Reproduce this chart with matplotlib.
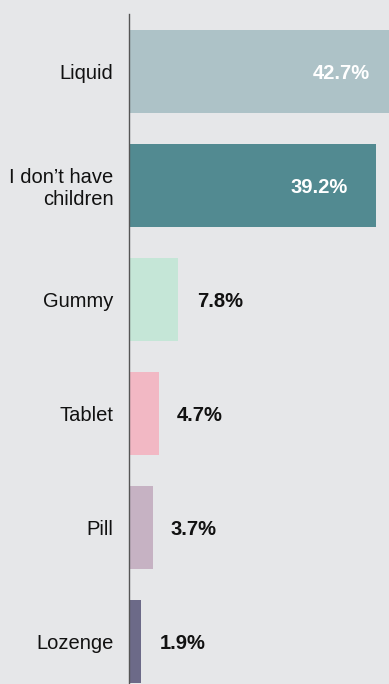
import matplotlib
matplotlib.use("Agg")
import matplotlib.pyplot as plt
from matplotlib import font_manager

categories = ["Liquid", "I don\u2019t have\nchildren", "Gummy", "Tablet", "Pill", "Lozenge"]
values = [42.7, 39.2, 7.8, 4.7, 3.7, 1.9]
colors = ["#adc2c7", "#528a91", "#c5e6d7", "#f2b8c4", "#c6b2c3", "#6c6a88"]
inside = [True, True, False, False, False, False]

names = {f.name for f in font_manager.fontManager.ttflist}
font = "Liberation Sans Narrow" if "Liberation Sans Narrow" in names else "Liberation Sans"
plt.rcParams["font.family"] = [font, "DejaVu Sans"]

bg = "#e6e7e9"
W, H = 389, 684
fig = plt.figure(figsize=(W / 100, H / 100), dpi=100, facecolor=bg)
ax = fig.add_axes([129.3 / W, 0, 1 - 129.3 / W, (H - 14) / H], facecolor=bg)

ypos = list(range(len(categories)))
ax.barh(ypos, values, height=0.725, color=colors, zorder=2)

ax.set_xlim(0, 41.27)
ax.set_ylim(5.374, -0.503)

# value labels: white inside the two long bars, black after the short ones
for y, v, ins in zip(ypos, values, inside):
    if ins:
        ax.text(v - 4.5, y + 0.02, f"{v}%", ha="right", va="center", color="white",
                fontsize=14.5, fontweight="bold", zorder=3)
    else:
        ax.text(v + 2.9, y + 0.02, f"{v}%", ha="left", va="center", color="#111111",
                fontsize=14.5, fontweight="bold", zorder=3)

ax.set_yticks(ypos)
ax.set_yticklabels(categories, fontsize=14.5, color="#111111", linespacing=1.15)
ax.tick_params(axis="y", length=0, pad=11.5)
ax.set_xticks([])
for s in ["top", "right", "bottom"]:
    ax.spines[s].set_visible(False)
ax.spines["left"].set_color("#555555")
ax.spines["left"].set_linewidth(1.0)

fig.savefig("out.png", dpi=100, facecolor=bg)
